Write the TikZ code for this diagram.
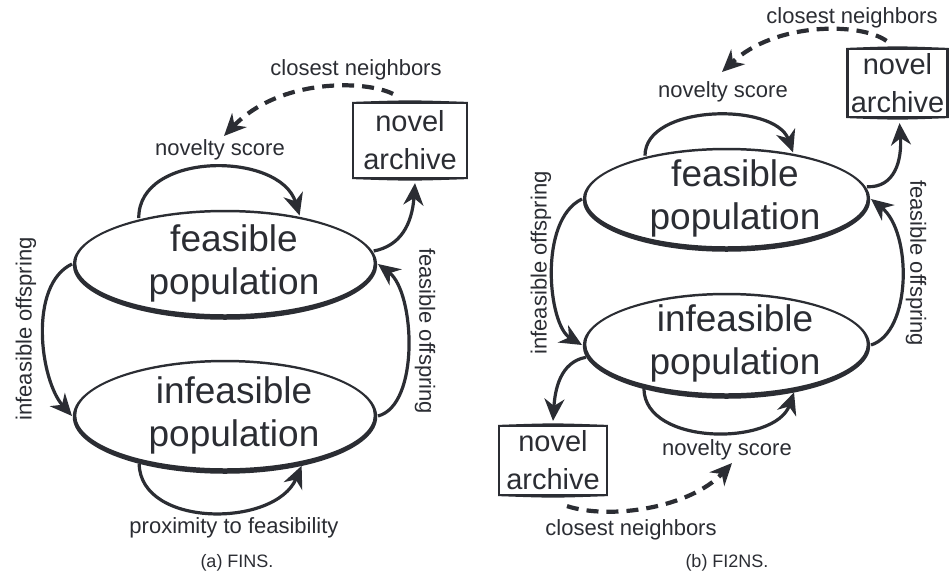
\documentclass[tikz,border=0pt]{standalone}
\usepackage{fontspec}
\setmainfont{Liberation Sans}
\usetikzlibrary{shapes.geometric,arrows.meta}
\definecolor{ink}{HTML}{2B2D33}
\tikzset{
  pop/.style={ellipse, draw=none, inner sep=0pt, outer sep=2.5pt},
  poptext/.style={font=\fontsize{37}{43}\selectfont, align=center, text=ink, inner sep=0pt},
  archive/.style={draw=ink, line width=2.2pt, minimum width=108pt, minimum height=70pt, inner sep=0pt,
    align=center, text=ink, font=\fontsize{29}{38}\selectfont},
  lbl/.style={font=\fontsize{22}{26}\selectfont, text=ink, inner sep=0pt},
  captext/.style={font=\fontsize{18}{22}\selectfont, text=ink, inner sep=0pt},
  arr/.style={draw=ink, line width=3.2pt, -{Stealth[length=22pt,width=20pt,inset=7pt]}},
  darr/.style={arr, line width=4.2pt, dash pattern=on 12pt off 8pt},
}
% ellipse outline drawn as a ring: thin on top, heavier along the bottom
\newcommand{\inkring}[3]{%
  \fill[ink, even odd rule]
    ([yshift=-0.75pt]#1.center) ellipse [x radius=#2+1.75pt, y radius=#3+2pt]
    ([yshift=0.75pt]#1.center) ellipse [x radius=#2-1.75pt, y radius=#3-2pt];}
% box with heavier top and bottom edges
\newcommand{\inkbox}[1]{%
  \fill[ink] (#1.north west) .. controls ([yshift=2pt]#1.north) .. (#1.north east)
             .. controls ([yshift=-2pt]#1.north) .. cycle;
  \fill[ink] (#1.south west) .. controls ([yshift=2pt]#1.south) .. (#1.south east)
             .. controls ([yshift=-2pt]#1.south) .. cycle;}
\begin{document}
\begin{tikzpicture}[x=1pt,y=-1pt]
\useasboundingbox (0,0) rectangle (949,576);

% ---------------- (a) FINS ----------------
\node[pop, minimum width=301pt, minimum height=106pt] (fe) at (225,264) {};
\inkring{fe}{150.5pt}{53pt}
\node[poptext] (fet) at (234,263) {feasible\\population};
\node[pop, minimum width=301pt, minimum height=110pt] (ie) at (225,416) {};
\inkring{ie}{150.5pt}{55pt}
\node[poptext] (iet) at (234,415) {infeasible\\population};
\node[archive, minimum width=114pt, minimum height=75pt] (la) at (410,140.5) {novel\\archive};
\inkbox{la}

\draw[arr] (fe.152) .. controls (138,151) and (280,151) .. (fe.33);
\node[lbl] (nsa) at (220,150) {novelty score};

\coordinate (cna) at (224,136);
\draw[darr] ([xshift=-17pt,yshift=8pt]la.north) .. controls (365,80) and (280,78) .. (cna);
\node[lbl] (cla) at (356,70) {closest neighbors};

\draw[arr] (fe.5) .. controls (400,246) and (412,225) .. ([xshift=5pt,yshift=-4pt]la.south);

\draw[arr] (ie.east) .. controls (420,405) and (415,292) .. (fe.east);
\node[lbl, rotate=-90] (foa) at (425,331) {feasible offspring};

\draw[arr] (fe.west) .. controls (28,285) and (40,380) .. (ie.west);
\node[lbl, rotate=90] (ioa) at (26,329) {infeasible offspring};

\draw[arr] (ie.209.5) .. controls (140,528) and (275,528) .. (ie.-33);
\node[lbl] (pfa) at (234,528) {proximity to feasibility};

\node[captext] (capa) at (237,563) {(a) FINS.};

% ---------------- (b) FI2NS ----------------
\node[pop, minimum width=284pt, minimum height=100pt] (fe2) at (726.5,199) {};
\inkring{fe2}{142pt}{50pt}
\node[poptext] (fe2t) at (735,198) {feasible\\population};
\node[pop, minimum width=284pt, minimum height=102pt] (ie2) at (726.5,345) {};
\inkring{ie2}{142pt}{51pt}
\node[poptext] (ie2t) at (735,343) {infeasible\\population};
\node[archive, minimum width=100pt, minimum height=68pt] (ra) at (897.5,83) {novel\\archive};
\inkbox{ra}
\node[archive, minimum height=69pt] (ba) at (553,460.5) {novel\\archive};
\inkbox{ba}

\draw[arr] (fe2.152) .. controls (645,104) and (775,102) .. (fe2.35);
\node[lbl] (nsb) at (723,92) {novelty score};

\coordinate (cnb) at (722,72);
\draw[darr] ([xshift=-11pt,yshift=7pt]ra.north) .. controls (860,22) and (775,22) .. (cnb);
\node[lbl] (clb) at (852,18) {closest neighbors};

\draw[arr] (fe2.5) .. controls (895,188) and (902,160) .. ([xshift=2pt,yshift=-5pt]ra.south);

\draw[arr] (ie2.east) .. controls (912,332) and (912,232) .. (fe2.east);
\node[lbl, rotate=-90] (fob) at (916,263) {feasible offspring};

\draw[arr] (fe2.west) .. controls (538,220) and (548,325) .. (ie2.west);
\node[lbl, rotate=90] (iob) at (541,263) {infeasible offspring};

\draw[arr] (ie2.185) .. controls (560,362) and (555,390) .. ([yshift=4pt]ba.north);

\draw[arr] (ie2.208) .. controls (645,446) and (775,446) .. (ie2.-35);
\node[lbl] (nsc) at (727,450) {novelty score};

\coordinate (cnc) at (732,463);
\draw[darr] ([xshift=14pt,yshift=-10pt]ba.south) .. controls (610,520) and (690,508) .. (cnc);
\node[lbl] (clc) at (631,530) {closest neighbors};

\node[captext] (capb) at (727,563) {(b) FI2NS.};
\end{tikzpicture}
\end{document}
